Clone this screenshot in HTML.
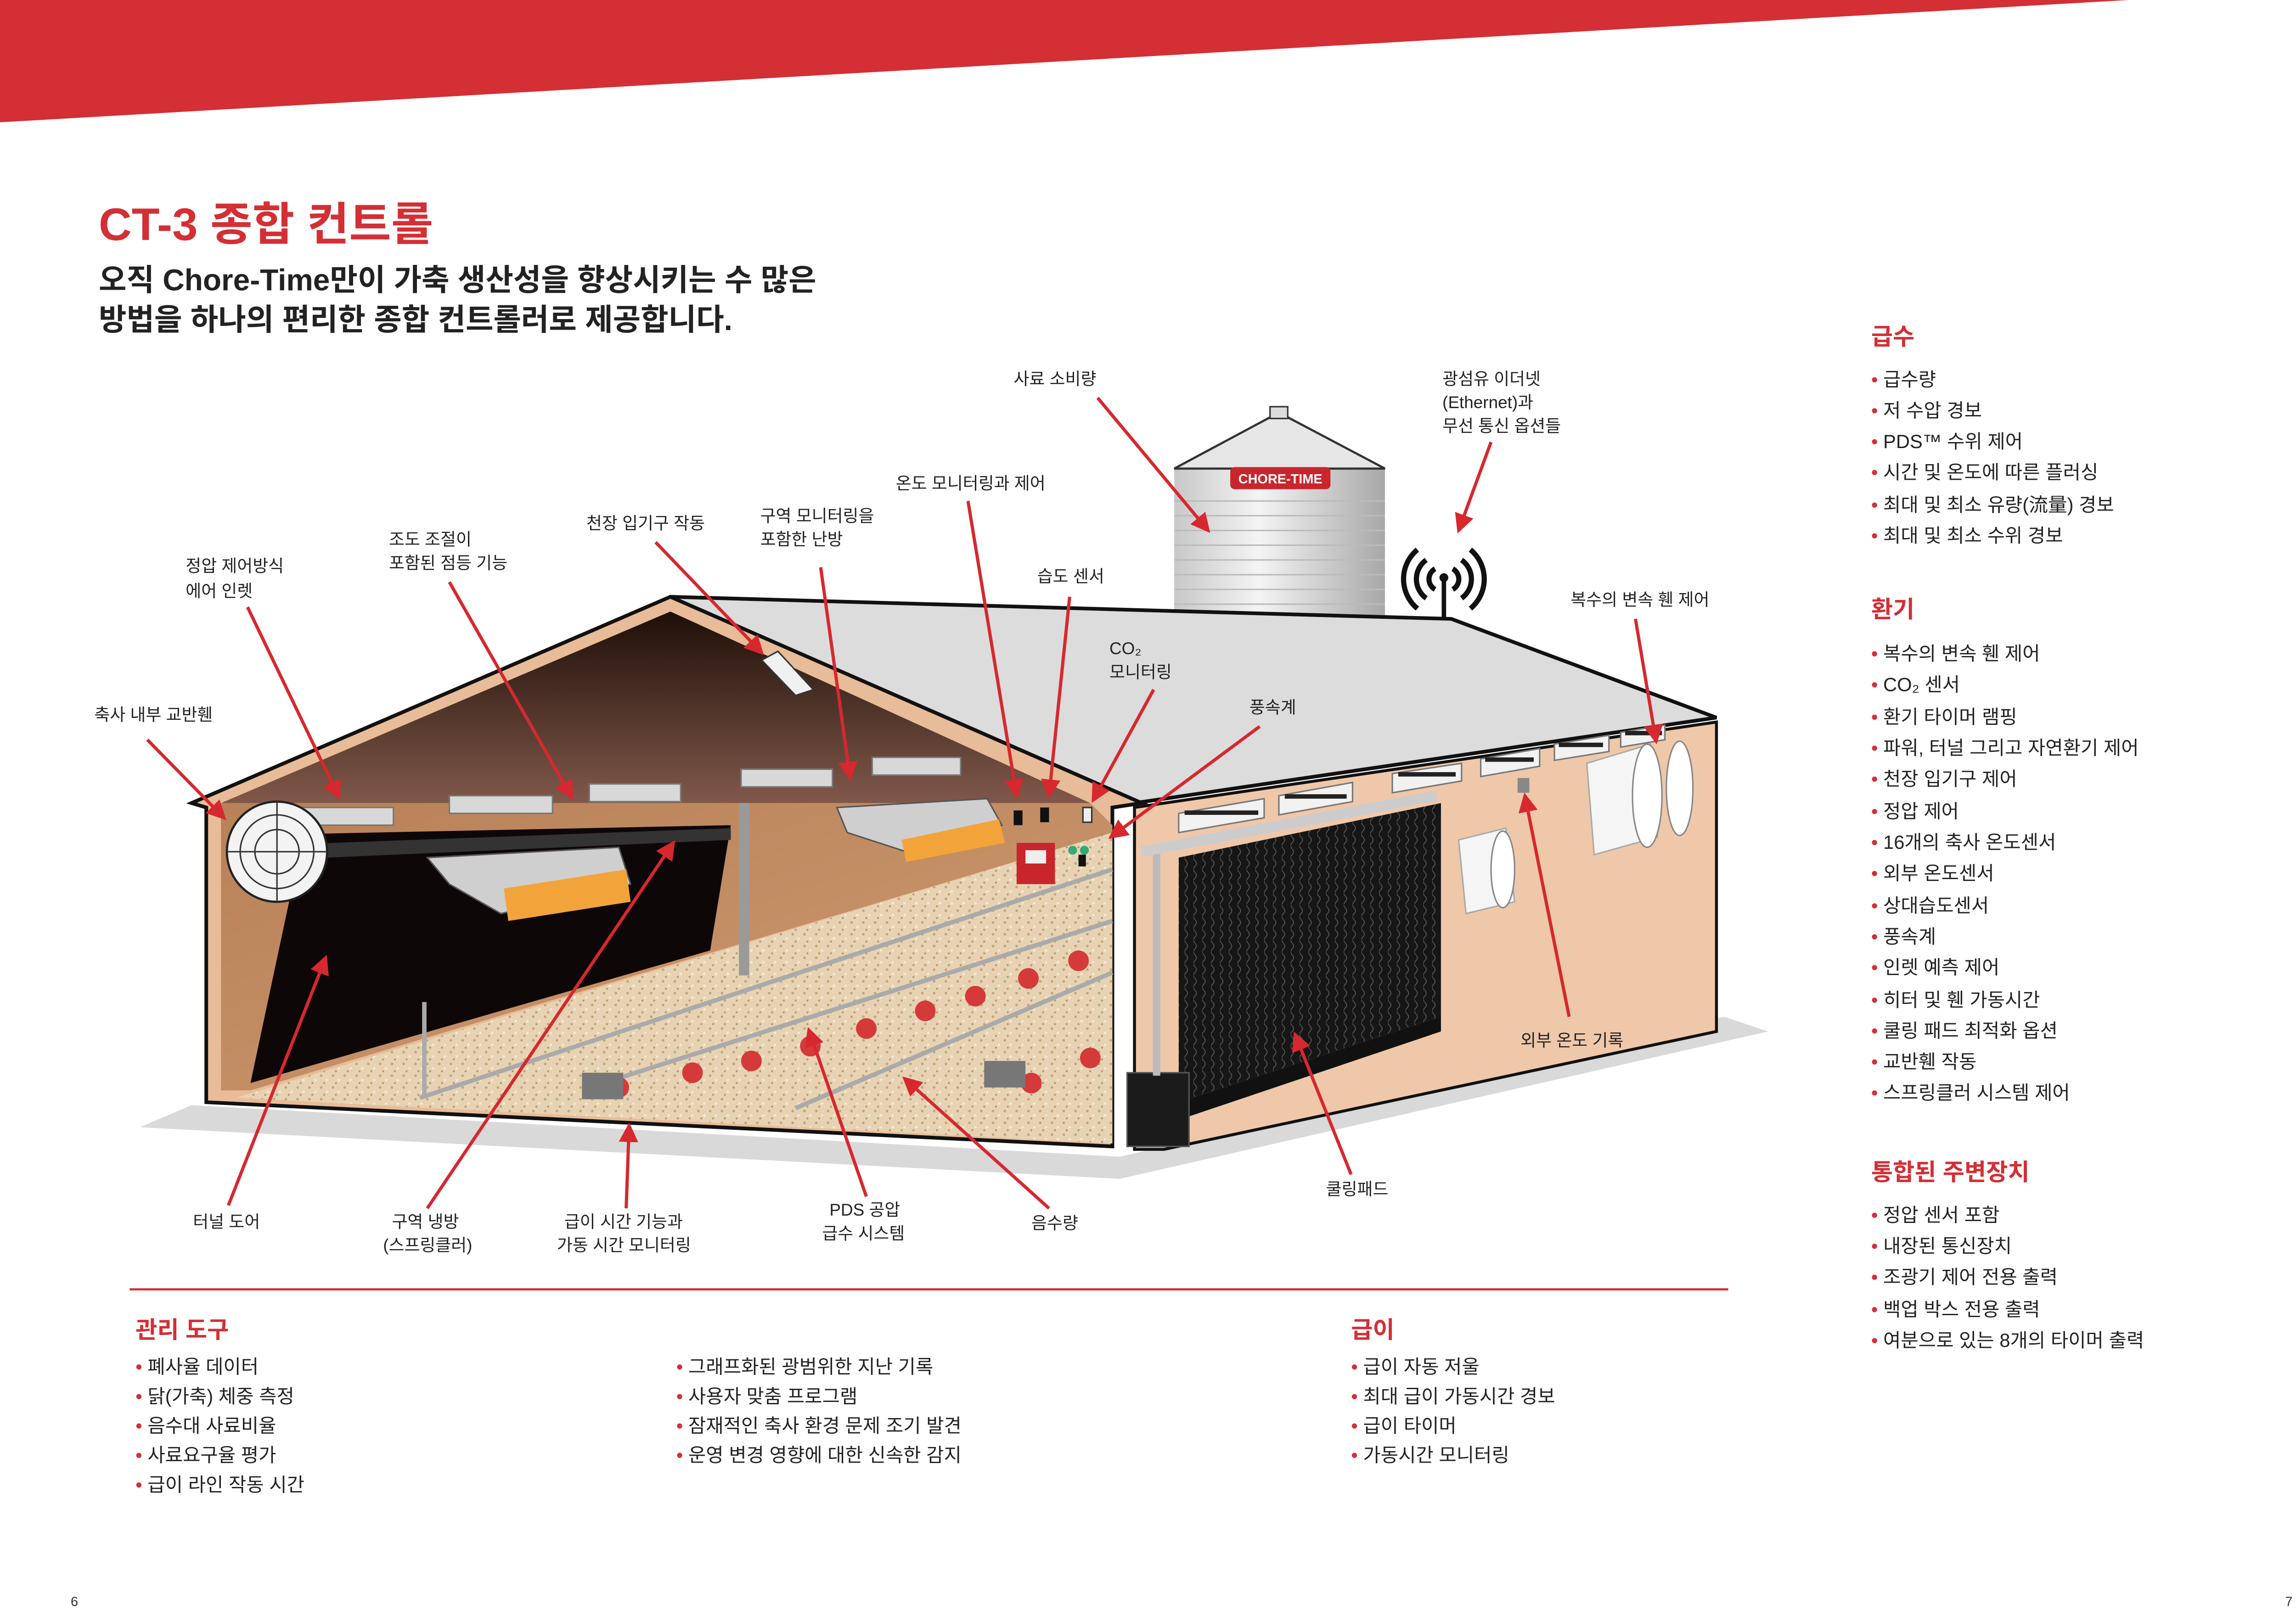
<!DOCTYPE html>
<html><head><meta charset="utf-8"><style>
html,body{margin:0;padding:0;background:#fff;}
svg{display:block;}
text{font-family:"Liberation Sans","Noto Sans CJK KR",sans-serif;}
.l{font-size:11.5px;fill:#222;}
.i{font-size:13px;fill:#222;}
.h{font-size:16px;font-weight:bold;fill:#d32f35;}
.b{fill:#d32f35;}
.a{stroke:#d6282e;stroke-width:2.2;fill:none;marker-end:url(#ar);}
</style></head><body>
<svg width="5031" height="3518" viewBox="0 0 1568 1096" preserveAspectRatio="none" xmlns="http://www.w3.org/2000/svg">
<defs>
<marker id="ar" markerWidth="6" markerHeight="6" refX="5" refY="3" orient="auto" markerUnits="strokeWidth"><path d="M0,0 L6,3 L0,6 z" fill="#d6282e"/></marker>
<linearGradient id="gab" x1="0" y1="0" x2="0" y2="1"><stop offset="0" stop-color="#1e0f08"/><stop offset="1" stop-color="#80584a"/></linearGradient>
<linearGradient id="silo" x1="0" y1="0" x2="1" y2="0"><stop offset="0" stop-color="#c8c8c8"/><stop offset="0.4" stop-color="#f4f4f4"/><stop offset="1" stop-color="#a8a8a8"/></linearGradient>
<linearGradient id="wall" x1="0" y1="0" x2="1" y2="1"><stop offset="0" stop-color="#b88158"/><stop offset="1" stop-color="#cf9b72"/></linearGradient>
<pattern id="wav" width="6" height="8" patternUnits="userSpaceOnUse"><rect width="6" height="8" fill="#161616"/><path d="M1,0 Q3,2 1,4 Q-1,6 1,8" stroke="#555" stroke-width="0.6" fill="none"/></pattern>
<pattern id="lit" width="8" height="8" patternUnits="userSpaceOnUse"><rect width="8" height="8" fill="#e7d3b3"/><circle cx="2" cy="2" r="0.9" fill="#c2a47a"/><circle cx="6" cy="5" r="0.8" fill="#f7ecd8"/><circle cx="4" cy="7" r="0.7" fill="#b7966b"/></pattern>
</defs>
<polygon points="0,0 1445,0 0,83" fill="#d32f35"/>
<text x="67" y="163" font-size="31" font-weight="bold" fill="#d32f35">CT-3 종합 컨트롤</text>
<text x="67" y="197" font-size="20.5" font-weight="bold" fill="#222">오직 Chore-Time만이 가축 생산성을 향상시키는 수 많은</text>
<text x="67" y="224" font-size="20.5" font-weight="bold" fill="#222">방법을 하나의 편리한 종합 컨트롤러로 제공합니다.</text>

<polygon points="95,765 760,800 1200,700 1170,690 760,785 130,750" fill="#d9d9d9"/>
<rect x="797" y="318" width="143" height="102" fill="url(#silo)"/>
<g stroke="#bbb" stroke-width="1">
<line x1="797" y1="340" x2="940" y2="340"/><line x1="797" y1="350" x2="940" y2="350"/><line x1="797" y1="360" x2="940" y2="360"/><line x1="797" y1="370" x2="940" y2="370"/><line x1="797" y1="380" x2="940" y2="380"/><line x1="797" y1="390" x2="940" y2="390"/><line x1="797" y1="400" x2="940" y2="400"/><line x1="797" y1="410" x2="940" y2="410"/></g>
<polygon points="797,318 868,280 940,318" fill="#e6e6e6" stroke="#333" stroke-width="1.5"/>
<rect x="862" y="276" width="12" height="8" fill="#ddd" stroke="#333"/>
<rect x="835" y="317" width="68" height="15" rx="3" fill="#c9252c"/>
<text x="869" y="328" font-size="9" font-weight="bold" fill="#fff" text-anchor="middle">CHORE-TIME</text>
<g fill="none" stroke="#111" stroke-width="3.5">
<path d="M968,380 A16,16 0 0,0 968,406"/><path d="M992,380 A16,16 0 0,1 992,406"/>
<path d="M962,373 A26,26 0 0,0 962,413"/><path d="M998,373 A26,26 0 0,1 998,413"/>
<path d="M974,386 A8,8 0 0,0 974,400"/><path d="M986,386 A8,8 0 0,1 986,400"/></g>
<line x1="980" y1="392" x2="980" y2="420" stroke="#111" stroke-width="3"/>
<circle cx="980" cy="392" r="3" fill="#111"/>
<polygon points="455,405 985,420 1165,487 770,545" fill="#dcdcdc" stroke="#111" stroke-width="2.5"/>
<polygon points="770,548 1165,490 1165,700 790,780 770,780" fill="#efc8aa" stroke="#111" stroke-width="2"/>
<polygon points="800,582 978,545 978,690 800,748" fill="url(#wav)"/>
<polygon points="800,748 978,690 978,700 800,760" fill="#111"/>
<rect x="765" y="728" width="42" height="50" fill="#1b1b1b" stroke="#555"/>
<line x1="785" y1="578" x2="785" y2="730" stroke="#bbb" stroke-width="5"/>
<line x1="775" y1="578" x2="975" y2="540" stroke="#ccc" stroke-width="7"/>
<g fill="#f2f2f2" stroke="#777">
<polygon points="800,552 858,542 858,555 800,565"/><polygon points="868,540 918,531 918,544 868,553"/><polygon points="945,525 992,518 992,530 945,538"/><polygon points="1005,515 1045,508 1045,520 1005,527"/><polygon points="1055,505 1092,499 1092,510 1055,516"/><polygon points="1100,497 1130,492 1130,502 1100,507"/></g>
<g fill="#222"><rect x="804" y="550" width="50" height="3"/><rect x="872" y="539" width="42" height="3"/><rect x="949" y="524" width="39" height="3"/><rect x="1008" y="514" width="33" height="3"/><rect x="1058" y="504" width="30" height="3"/><rect x="1103" y="496" width="25" height="3"/></g>
<rect x="1030" y="528" width="8" height="10" fill="#888"/>
<polygon points="990,570 1022,562 1028,612 995,620" fill="#f5f5f5" stroke="#aaa"/>
<ellipse cx="1020" cy="590" rx="8" ry="26" fill="#fff" stroke="#888"/>
<polygon points="1077,518 1120,505 1125,568 1082,580" fill="#f5f5f5" stroke="#aaa"/>
<ellipse cx="1118" cy="540" rx="10" ry="35" fill="#fff" stroke="#888"/>
<ellipse cx="1140" cy="535" rx="9" ry="32" fill="#fff" stroke="#888"/>
<polygon points="130,545 455,405 775,545 755,548 755,778 140,748 140,548" fill="#e8bc98" stroke="#111" stroke-width="2.5"/>
<polygon points="150,545 455,415 740,545" fill="url(#gab)"/>
<polygon points="150,545 740,545 755,560 755,565 170,740 150,740" fill="url(#wall)"/>
<polygon points="170,742 755,565 755,776 160,745" fill="url(#lit)"/>
<polygon points="206,566 496,560 482,645 170,735" fill="#0e0707"/>
<polygon points="200,573 496,562 496,570 200,583" fill="#333"/>
<polygon points="517,448 528,442 552,468 540,472" fill="#f0f0f0" stroke="#333"/>
<line x1="505" y1="545" x2="505" y2="662" stroke="#9a9a9a" stroke-width="7"/>
<g fill="#d8d8d8" stroke="#777"><rect x="205" y="548" width="62" height="12"/><rect x="305" y="540" width="70" height="12"/><rect x="400" y="532" width="62" height="12"/><rect x="503" y="522" width="62" height="12"/><rect x="592" y="514" width="60" height="12"/></g>
<circle cx="188" cy="578" r="34" fill="#f3f3f3" stroke="#222" stroke-width="1.5"/>
<circle cx="188" cy="578" r="25" fill="none" stroke="#333"/><circle cx="188" cy="578" r="15" fill="none" stroke="#333"/>
<line x1="154" y1="578" x2="222" y2="578" stroke="#333"/><line x1="188" y1="544" x2="188" y2="612" stroke="#333"/>
<polygon points="290,582 420,575 428,600 340,620 305,600" fill="#cfcfcf" stroke="#555"/>
<polygon points="342,603 425,590 428,612 345,625" fill="#f2a43a"/>
<polygon points="568,548 670,542 680,560 615,578 575,565" fill="#cfcfcf" stroke="#555"/>
<polygon points="612,570 678,556 682,572 615,585" fill="#f2a43a"/>
<rect x="690" y="572" width="26" height="28" fill="#c9252c"/><rect x="696" y="577" width="14" height="9" fill="#eee"/>
<rect x="688" y="550" width="6" height="10" fill="#111"/><rect x="706" y="548" width="6" height="10" fill="#111"/><rect x="735" y="548" width="6" height="10" fill="#eee" stroke="#333"/>
<circle cx="728" cy="577" r="3" fill="#3a7"/><circle cx="736" cy="577" r="3" fill="#3a7"/><rect x="732" y="580" width="5" height="8" fill="#111"/>
<g stroke="#aaa" stroke-width="3"><line x1="285" y1="745" x2="755" y2="590"/><line x1="540" y1="752" x2="755" y2="660"/><line x1="400" y1="738" x2="755" y2="625"/></g>
<g fill="#d43a3a"><circle cx="420" cy="738" r="7"/><circle cx="470" cy="728" r="7"/><circle cx="510" cy="720" r="7"/><circle cx="550" cy="710" r="7"/><circle cx="588" cy="698" r="7"/><circle cx="628" cy="686" r="7"/><circle cx="662" cy="676" r="7"/><circle cx="698" cy="664" r="7"/><circle cx="732" cy="652" r="7"/><circle cx="700" cy="735" r="7"/><circle cx="740" cy="718" r="7"/></g>
<rect x="395" y="728" width="28" height="18" fill="#777"/><rect x="668" y="720" width="28" height="18" fill="#777"/>
<line x1="288" y1="680" x2="288" y2="745" stroke="#aaa" stroke-width="3"/>

<g class="l">
<text x="688" y="261">사료 소비량</text>
<text x="979" y="261">광섬유 이더넷</text><text x="979" y="277">(Ethernet)과</text><text x="979" y="293">무선 통신 옵션들</text>
<text x="608" y="332">온도 모니터링과 제어</text>
<text x="516" y="354">구역 모니터링을</text><text x="516" y="370">포함한 난방</text>
<text x="398" y="359">천장 입기구 작동</text>
<text x="264" y="370">조도 조절이</text><text x="264" y="386">포함된 점등 기능</text>
<text x="126" y="388">정압 제어방식</text><text x="126" y="405">에어 인렛</text>
<text x="64" y="489">축사 내부 교반휀</text>
<text x="704" y="395">습도 센서</text>
<text x="753" y="444">CO₂</text><text x="753" y="460">모니터링</text>
<text x="848" y="484">풍속계</text>
<text x="1066" y="411">복수의 변속 휀 제어</text>
<text x="1032" y="710">외부 온도 기록</text>
<text x="900" y="811">쿨링패드</text>
<text x="700" y="834">음수량</text>
<text x="563" y="825">PDS 공압</text><text x="558" y="841">급수 시스템</text>
<text x="383" y="833">급이 시간 기능과</text><text x="378" y="849">가동 시간 모니터링</text>
<text x="266" y="833">구역 냉방</text><text x="260" y="849">(스프링클러)</text>
<text x="131" y="833">터널 도어</text>
</g>
<g class="a">
<line x1="745" y1="270" x2="820" y2="360"/>
<line x1="1012" y1="300" x2="990" y2="360"/>
<line x1="657" y1="340" x2="690" y2="540"/>
<line x1="557" y1="385" x2="577" y2="528"/>
<line x1="445" y1="368" x2="517" y2="443"/>
<line x1="305" y1="395" x2="388" y2="541"/>
<line x1="168" y1="412" x2="230" y2="541"/>
<line x1="100" y1="502" x2="152" y2="555"/>
<line x1="726" y1="405" x2="712" y2="540"/>
<line x1="783" y1="468" x2="742" y2="543"/>
<line x1="855" y1="493" x2="754" y2="568"/>
<line x1="1110" y1="420" x2="1124" y2="503"/>
<line x1="1065" y1="690" x2="1035" y2="540"/>
<line x1="917" y1="797" x2="879" y2="702"/>
<line x1="712" y1="820" x2="614" y2="732"/>
<line x1="588" y1="812" x2="549" y2="699"/>
<line x1="425" y1="820" x2="427" y2="764"/>
<line x1="290" y1="820" x2="457" y2="572"/>
<line x1="155" y1="818" x2="221" y2="650"/>
</g>

<text class="h" x="1270" y="234">급수</text>
<g class="i">
<text x="1270" y="262"><tspan class="b">• </tspan>급수량</text>
<text x="1270" y="283"><tspan class="b">• </tspan>저 수압 경보</text>
<text x="1270" y="304"><tspan class="b">• </tspan>PDS™ 수위 제어</text>
<text x="1270" y="325"><tspan class="b">• </tspan>시간 및 온도에 따른 플러싱</text>
<text x="1270" y="347"><tspan class="b">• </tspan>최대 및 최소 유량(流量) 경보</text>
<text x="1270" y="368"><tspan class="b">• </tspan>최대 및 최소 수위 경보</text>
</g>
<text class="h" x="1270" y="419">환기</text>
<g class="i">
<text x="1270" y="448"><tspan class="b">• </tspan>복수의 변속 휀 제어</text>
<text x="1270" y="469"><tspan class="b">• </tspan>CO₂ 센서</text>
<text x="1270" y="491"><tspan class="b">• </tspan>환기 타이머 램핑</text>
<text x="1270" y="512"><tspan class="b">• </tspan>파워, 터널 그리고 자연환기 제어</text>
<text x="1270" y="533"><tspan class="b">• </tspan>천장 입기구 제어</text>
<text x="1270" y="555"><tspan class="b">• </tspan>정압 제어</text>
<text x="1270" y="576"><tspan class="b">• </tspan>16개의 축사 온도센서</text>
<text x="1270" y="597"><tspan class="b">• </tspan>외부 온도센서</text>
<text x="1270" y="619"><tspan class="b">• </tspan>상대습도센서</text>
<text x="1270" y="640"><tspan class="b">• </tspan>풍속계</text>
<text x="1270" y="661"><tspan class="b">• </tspan>인렛 예측 제어</text>
<text x="1270" y="683"><tspan class="b">• </tspan>히터 및 휀 가동시간</text>
<text x="1270" y="704"><tspan class="b">• </tspan>쿨링 패드 최적화 옵션</text>
<text x="1270" y="725"><tspan class="b">• </tspan>교반휀 작동</text>
<text x="1270" y="746"><tspan class="b">• </tspan>스프링클러 시스템 제어</text>
</g>
<text class="h" x="1270" y="801">통합된 주변장치</text>
<g class="i">
<text x="1270" y="829"><tspan class="b">• </tspan>정압 센서 포함</text>
<text x="1270" y="850"><tspan class="b">• </tspan>내장된 통신장치</text>
<text x="1270" y="871"><tspan class="b">• </tspan>조광기 제어 전용 출력</text>
<text x="1270" y="893"><tspan class="b">• </tspan>백업 박스 전용 출력</text>
<text x="1270" y="914"><tspan class="b">• </tspan>여분으로 있는 8개의 타이머 출력</text>
</g>

<line x1="88" y1="875" x2="1173" y2="875" stroke="#d32f35" stroke-width="1.5"/>
<text class="h" x="92" y="908">관리 도구</text>
<g class="i">
<text x="92" y="932"><tspan class="b">• </tspan>폐사율 데이터</text>
<text x="92" y="952"><tspan class="b">• </tspan>닭(가축) 체중 측정</text>
<text x="92" y="972"><tspan class="b">• </tspan>음수대 사료비율</text>
<text x="92" y="992"><tspan class="b">• </tspan>사료요구율 평가</text>
<text x="92" y="1012"><tspan class="b">• </tspan>급이 라인 작동 시간</text>
<text x="459" y="932"><tspan class="b">• </tspan>그래프화된 광범위한 지난 기록</text>
<text x="459" y="952"><tspan class="b">• </tspan>사용자 맞춤 프로그램</text>
<text x="459" y="972"><tspan class="b">• </tspan>잠재적인 축사 환경 문제 조기 발견</text>
<text x="459" y="992"><tspan class="b">• </tspan>운영 변경 영향에 대한 신속한 감지</text>
</g>
<text class="h" x="917" y="908">급이</text>
<g class="i">
<text x="917" y="932"><tspan class="b">• </tspan>급이 자동 저울</text>
<text x="917" y="952"><tspan class="b">• </tspan>최대 급이 가동시간 경보</text>
<text x="917" y="972"><tspan class="b">• </tspan>급이 타이머</text>
<text x="917" y="992"><tspan class="b">• </tspan>가동시간 모니터링</text>
</g>
<text x="48" y="1090" font-size="9" fill="#333">6</text>
<text x="1551" y="1090" font-size="9" fill="#333">7</text>
</svg>
</body></html>
